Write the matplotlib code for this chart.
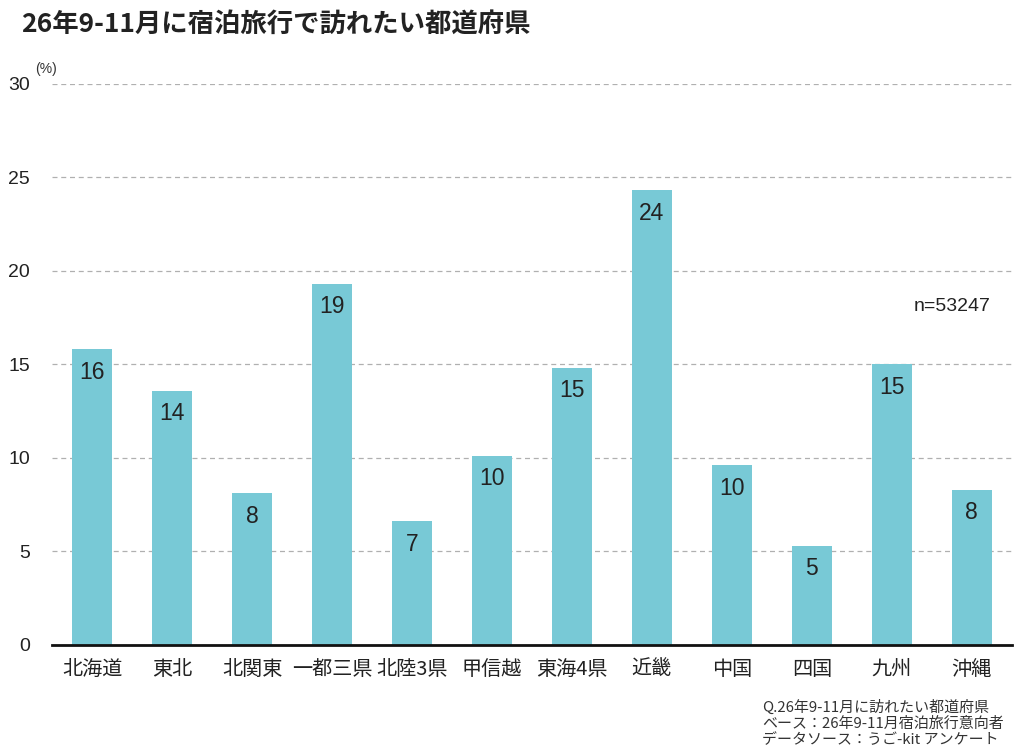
import matplotlib.pyplot as plt

plt.rcParams['font.family'] = ['Noto Sans CJK JP', 'DejaVu Sans']

regions = ['北海道', '東北', '北関東', '一都三県', '北陸3県', '甲信越',
           '東海4県', '近畿', '中国', '四国', '九州', '沖縄']
share = [15.8, 13.6, 8.1, 19.3, 6.6, 10.1, 14.8, 24.3, 9.6, 5.3, 15.0, 8.3]
yticks = [0, 5, 10, 15, 20, 25, 30]

fig = plt.figure(figsize=(10.24, 7.56), dpi=100)
ax = fig.add_axes([0.051, 0.147, 0.937, 0.742])

num_font = ['Liberation Sans', 'DejaVu Sans']

x = range(len(regions))
ax.bar(x, share, width=0.5, color='#78c9d6', zorder=2)
for xi, v in zip(x, share):
    ax.text(xi, v - 0.6, f'{v:.0f}', ha='center', va='top',
            fontsize=16.5, color='#222222', family=num_font, zorder=3)

ax.set_xlim(-0.5, 11.5)
ax.set_ylim(0, 30)
ax.set_yticks(yticks)
ax.set_xticks(list(x))
ax.set_xticklabels(regions, fontsize=14.5, color='#222222')
ax.set_yticklabels([str(t) for t in yticks], fontsize=14, family=num_font, color='#222222')
ax.tick_params(length=0)
ax.tick_params(axis='x', pad=10)
ax.tick_params(axis='y', pad=16)
ax.yaxis.grid(True, linestyle=(0, (4, 3)), color='#b0b0b0', linewidth=0.9, zorder=0)
for s in ['top', 'right', 'left']:
    ax.spines[s].set_visible(False)
ax.spines['bottom'].set_linewidth(2)
ax.spines['bottom'].set_color('#111111')
ax.spines['bottom'].set_zorder(4)

fig.text(0.021, 0.968, '26年9-11月に宿泊旅行で訪れたい都道府県', fontsize=19,
         fontweight='bold', ha='left', va='center', color='#222222')
fig.text(0.034, 0.909, '(%)', fontsize=10, ha='left', va='center', color='#333333',
         family=num_font)
ax.text(11.23, 18.1, 'n=53247', fontsize=14, ha='right', va='center', color='#222222',
        family=num_font)

fig.text(0.744, 0.012,
         'Q.26年9-11月に訪れたい都道府県\nベース：26年9-11月宿泊旅行意向者\nデータソース：うご-kit アンケート',
         fontsize=10.8, ha='left', va='bottom', color='#333333', linespacing=1.2)

fig.savefig('out.png', dpi=100)
